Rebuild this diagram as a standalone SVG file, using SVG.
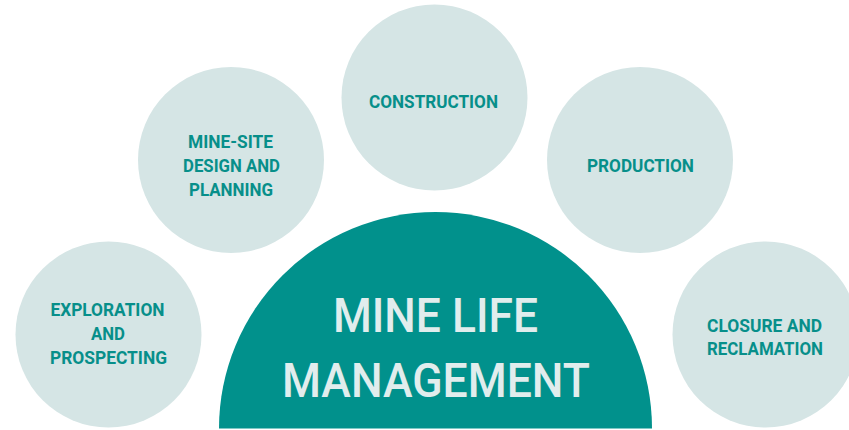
<svg xmlns="http://www.w3.org/2000/svg" width="849" height="430" viewBox="0 0 849 430">
  <style>
    .stage { fill: #d5e5e5; }
    .stage-label { font-family: Roboto, "Liberation Sans", sans-serif; font-weight: 700; font-size: 18px; fill: #078f8a; text-anchor: middle; }
    .core { fill: #01918c; }
    .core-label { font-family: Roboto, "Liberation Sans", sans-serif; font-weight: 500; font-size: 49px; fill: #e1eded; text-anchor: middle; }
  </style>
  <rect width="849" height="430" fill="#ffffff"/>

  <!-- lifecycle stages -->
  <g id="exploration">
    <circle class="stage" cx="108.5" cy="334.5" r="93"/>
    <text class="stage-label" x="107.5" y="316" textLength="114" lengthAdjust="spacingAndGlyphs">EXPLORATION</text>
    <text class="stage-label" x="108" y="340" textLength="34" lengthAdjust="spacingAndGlyphs">AND</text>
    <text class="stage-label" x="108.5" y="364" textLength="117" lengthAdjust="spacingAndGlyphs">PROSPECTING</text>
  </g>

  <g id="design">
    <circle class="stage" cx="231" cy="160" r="93"/>
    <text class="stage-label" x="230.5" y="148" textLength="85" lengthAdjust="spacingAndGlyphs">MINE-SITE</text>
    <text class="stage-label" x="231.5" y="172" textLength="97" lengthAdjust="spacingAndGlyphs">DESIGN AND</text>
    <text class="stage-label" x="231" y="196" textLength="84" lengthAdjust="spacingAndGlyphs">PLANNING</text>
  </g>

  <g id="construction">
    <circle class="stage" cx="434.5" cy="97.5" r="93"/>
    <text class="stage-label" x="433.5" y="108" textLength="129" lengthAdjust="spacingAndGlyphs">CONSTRUCTION</text>
  </g>

  <g id="production">
    <circle class="stage" cx="640" cy="160" r="93"/>
    <text class="stage-label" x="640.5" y="172" textLength="107" lengthAdjust="spacingAndGlyphs">PRODUCTION</text>
  </g>

  <g id="closure">
    <circle class="stage" cx="765.5" cy="334.5" r="93"/>
    <text class="stage-label" x="764.5" y="332" textLength="115" lengthAdjust="spacingAndGlyphs">CLOSURE AND</text>
    <text class="stage-label" x="765" y="355" textLength="116" lengthAdjust="spacingAndGlyphs">RECLAMATION</text>
  </g>

  <!-- central half-disc -->
  <g id="mine-life-management">
    <path class="core" d="M219 428.5 A216.5 216.5 0 0 1 652 428.5 Z"/>
    <text class="core-label" x="435.5" y="332" textLength="205" lengthAdjust="spacingAndGlyphs">MINE LIFE</text>
    <text class="core-label" x="436" y="397" textLength="308" lengthAdjust="spacingAndGlyphs">MANAGEMENT</text>
  </g>
</svg>
